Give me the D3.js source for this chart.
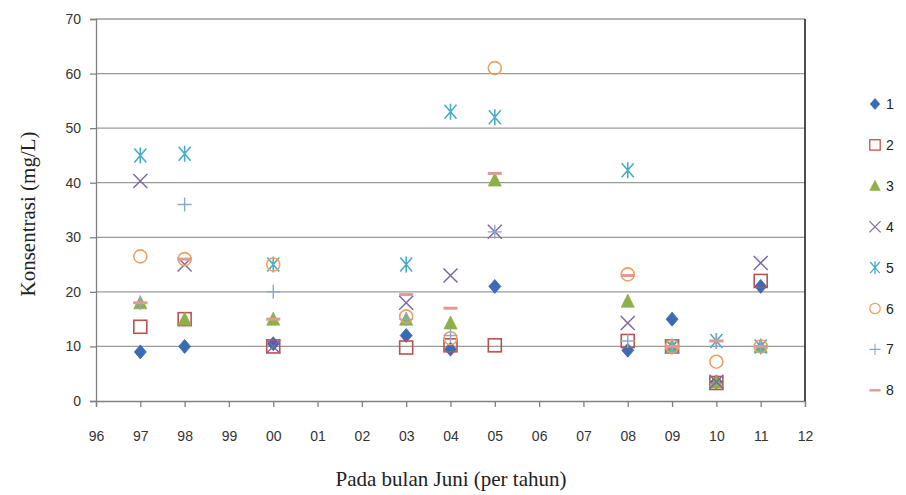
<!DOCTYPE html>
<html>
<head>
<meta charset="utf-8">
<script src="https://cdn.jsdelivr.net/npm/d3@7"></script>
<style>
  html, body { margin: 0; padding: 0; background: #fff; }
  svg { display: block; }
</style>
</head>
<body>
<svg id="chart" width="906" height="495"></svg>
<script>
// ---- data ----
const xTickLabels = ["96","97","98","99","00","01","02","03","04","05","06","07","08","09","10","11","12"];
const yTicks = [0, 10, 20, 30, 40, 50, 60, 70];
const years = ["97","98","00","03","04","05","08","09","10","11"];
const seriesNames = ["1","2","3","4","5","6","7","8"];
const s1 = [9, 10, 10.5, 12, 9.5, 21, 9.3, 15, 3.5, 21];
const s2 = [13.6, 15, 10, 9.8, 10.2, 10.2, 11, 10, 3.3, 22];
const s3 = [18, 15, 15, 15, 14.3, 40.5, 18.3, 10, 3.5, 10];
const s4 = [40.3, 25, 10, 18, 23, 31, 14.3, 10, 3.5, 25.3];
const s5 = [45, 45.3, 25, 25, 53, 52, 42.3, 10, 11, 10];
const s6 = [26.5, 26, 25, 15.5, 11.5, 61, 23.2, 10, 7.2, 10];
const s7 = [18, 36, 20, 15, 12, 31, 11, 10, 11, 10];
const s8 = [18, 26, 15, 19.5, 17, 41.7, 23, 10, 11, 10];
const allSeries = [s1, s2, s3, s4, s5, s6, s7, s8];
const colors = ["#3A6BB5", "#C0504D", "#8DB04A", "#7E6AA0", "#4BACC6", "#F0A060", "#8EA5CF", "#E09A95"];

// ---- layout ----
const svg = d3.select("#chart");
const x = d3.scaleLinear().domain([0, xTickLabels.length - 1]).range([96, 805]);
const y = d3.scaleLinear().domain([0, 70]).range([401, 19]);
const tickFont = "'Liberation Sans Narrow','Liberation Sans',Arial,sans-serif";

// gridlines
svg.append("g").selectAll("line").data(yTicks.filter(d => d > 0)).join("line")
  .attr("x1", x(0)).attr("x2", x(16))
  .attr("y1", d => y(d)).attr("y2", d => y(d))
  .attr("stroke", "#9a9a9a").attr("stroke-width", 1.3);

// y axis
const yAxis = d3.axisLeft(y).tickValues(yTicks).tickSize(6).tickPadding(9);
const gy = svg.append("g").attr("transform", `translate(${x(0)},0)`).call(yAxis);
gy.select(".domain").attr("stroke", "#808080").attr("stroke-width", 1.3);
gy.selectAll(".tick line").attr("stroke", "#808080").attr("stroke-width", 1.3);
gy.selectAll(".tick text").attr("fill", "#333").style("font-family", tickFont).style("font-size", "14px");

// x axis
const xAxis = d3.axisBottom(x).tickValues(d3.range(xTickLabels.length))
  .tickFormat(i => xTickLabels[i]).tickSize(6).tickPadding(24);
const gx = svg.append("g").attr("transform", `translate(0,${y(0)})`).call(xAxis);
gx.select(".domain").attr("stroke", "#808080").attr("stroke-width", 1.3);
gx.selectAll(".tick line").attr("stroke", "#808080").attr("stroke-width", 1.3);
gx.selectAll(".tick text").attr("fill", "#333").style("font-family", tickFont).style("font-size", "14px");

// right border
svg.append("line").attr("x1", x(16)).attr("x2", x(16)).attr("y1", y(70)).attr("y2", y(0))
  .attr("stroke", "#222").attr("stroke-width", 1.6);

// axis titles
svg.append("text").attr("x", 451).attr("y", 486).attr("text-anchor", "middle")
  .style("font-family", "'Liberation Serif','Times New Roman',serif").style("font-size", "21px").attr("fill", "#222")
  .text("Pada bulan Juni (per tahun)");
svg.append("text").attr("transform", "translate(35,214) rotate(-90)").attr("text-anchor", "middle")
  .style("font-family", "'Liberation Serif','Times New Roman',serif").style("font-size", "21px").attr("fill", "#222")
  .text("Konsentrasi (mg/L)");

// ---- markers ----
function drawMarker(g, type, cx, cy, color) {
  const s = 6;
  if (type === 0) {
    g.append("path").attr("d", `M${cx},${cy - s - 1}L${cx + s},${cy}L${cx},${cy + s + 1}L${cx - s},${cy}Z`)
      .attr("fill", color).attr("stroke", color).attr("stroke-width", 0.8);
  } else if (type === 1) {
    g.append("rect").attr("x", cx - 6.5).attr("y", cy - 6.5).attr("width", 13).attr("height", 13)
      .attr("fill", "none").attr("stroke", color).attr("stroke-width", 1.6);
  } else if (type === 2) {
    g.append("path").attr("d", `M${cx},${cy - 7}L${cx + 6.5},${cy + 6}L${cx - 6.5},${cy + 6}Z`)
      .attr("fill", color).attr("stroke", color).attr("stroke-width", 0.8);
  } else if (type === 3) {
    g.append("path").attr("d", `M${cx - 7},${cy - 7}L${cx + 7},${cy + 7}M${cx + 7},${cy - 7}L${cx - 7},${cy + 7}`)
      .attr("stroke", color).attr("stroke-width", 1.5).attr("fill", "none");
  } else if (type === 4) {
    g.append("path").attr("d", `M${cx - 6},${cy - 7}L${cx + 6},${cy + 7}M${cx + 6},${cy - 7}L${cx - 6},${cy + 7}M${cx},${cy - 8}L${cx},${cy + 8}`)
      .attr("stroke", color).attr("stroke-width", 1.6).attr("fill", "none");
  } else if (type === 5) {
    g.append("circle").attr("cx", cx).attr("cy", cy).attr("r", 6.5)
      .attr("fill", "none").attr("stroke", color).attr("stroke-width", 1.6);
  } else if (type === 6) {
    g.append("path").attr("d", `M${cx - 7},${cy}L${cx + 7},${cy}M${cx},${cy - 7}L${cx},${cy + 7}`)
      .attr("stroke", color).attr("stroke-width", 1.4).attr("fill", "none");
  } else if (type === 7) {
    g.append("path").attr("d", `M${cx - 7},${cy}L${cx + 7},${cy}`)
      .attr("stroke", color).attr("stroke-width", 3).attr("fill", "none");
  }
}

const gm = svg.append("g");
allSeries.forEach((vals, si) => {
  vals.forEach((v, i) => {
    if (v == null) return;
    drawMarker(gm, si, x(xTickLabels.indexOf(years[i])), y(v), colors[si]);
  });
});

// ---- legend ----
const gl = svg.append("g");
seriesNames.forEach((name, i) => {
  const ly = 104 + i * 40.9;
  const lx = 875;
  const mg = gl.append("g").attr("transform", `translate(${lx},${ly}) scale(0.8) translate(${-lx},${-ly})`);
  drawMarker(mg, i, lx, ly, colors[i]);
  gl.append("text").attr("x", 886).attr("y", ly + 5)
    .style("font-family", tickFont).style("font-size", "14px").attr("fill", "#222")
    .text(name);
});
</script>
</body>
</html>
